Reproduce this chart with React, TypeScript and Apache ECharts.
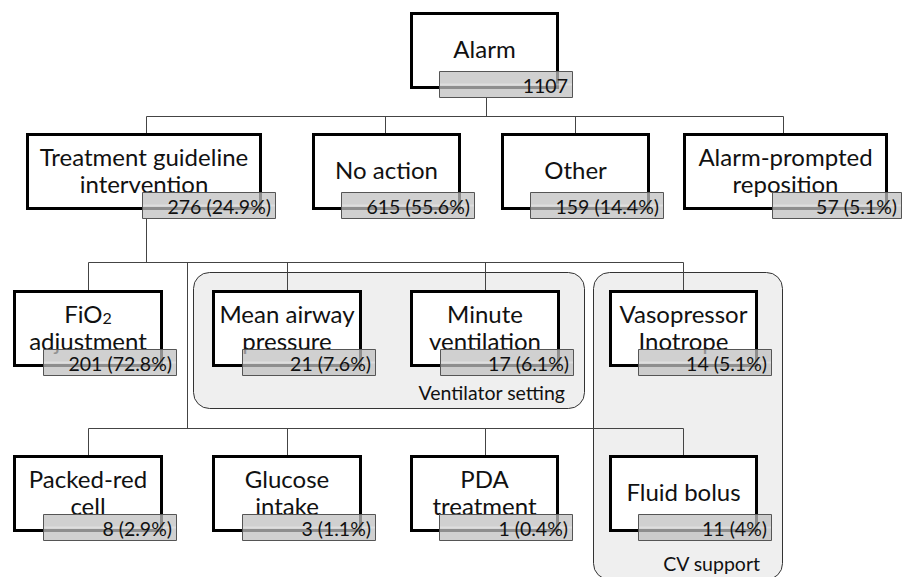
import React, { useEffect, useRef } from "react";
import * as echarts from "echarts";

// ---------- data ----------
const nodeNames = [
  "Alarm",
  "Treatment guideline\nintervention",
  "No action",
  "Other",
  "Alarm-prompted\nreposition",
  "FiO2\nadjustment",
  "Mean airway\npressure",
  "Minute\nventilation",
  "Vasopressor\nInotrope",
  "Packed-red\ncell",
  "Glucose\nintake",
  "PDA\ntreatment",
  "Fluid bolus",
];
const nodeCounts = [1107, 276, 615, 159, 57, 201, 21, 17, 14, 8, 3, 1, 11];
const nodePercents = ["", "24.9", "55.6", "14.4", "5.1", "72.8", "7.6", "6.1", "5.1", "2.9", "1.1", "0.4", "4"];
const groupLabels = ["Ventilator setting", "CV support"];
// children of each parent, by level
const treeLevels = [
  { parent: 0, children: [1, 2, 3, 4] },
  { parent: 1, children: [5, 6, 7, 8] },
  { parent: 1, children: [9, 10, 11, 12] },
];

// ---------- layout ----------
const W = 912;
const H = 577;
const boxLayout = [
  { x: 410, y: 12, w: 149, h: 77, cx: 486 },
  { x: 26, y: 133, w: 236, h: 77, cx: 146 },
  { x: 312, y: 133, w: 149, h: 77, cx: 385 },
  { x: 501, y: 133, w: 149, h: 77, cx: 575 },
  { x: 683, y: 133, w: 205, h: 77, cx: 783 },
  { x: 13, y: 290, w: 150, h: 77, cx: 88 },
  { x: 212, y: 290, w: 150, h: 77, cx: 287 },
  { x: 410, y: 290, w: 150, h: 77, cx: 485 },
  { x: 609, y: 290, w: 149, h: 77, cx: 683 },
  { x: 13, y: 455, w: 150, h: 77, cx: 88 },
  { x: 212, y: 455, w: 150, h: 77, cx: 287 },
  { x: 410, y: 455, w: 149, h: 77, cx: 485 },
  { x: 609, y: 455, w: 149, h: 77, cx: 683 },
];
const busLayout = [
  { y: 116, dropX: 486, dropFrom: 98 },
  { y: 262, dropX: 146, dropFrom: 218 },
  { y: 428, dropX: 187, dropFrom: 262 },
];
const panelLayout = [
  { x: 193, y: 272, w: 391, h: 136, lx: 565, ly: 392 },
  { x: 593, y: 272, w: 189, h: 307, lx: 760, ly: 563 },
];
const FONT = "Lato, 'Open Sans', sans-serif";
const LINE_H = 27;

export default function App() {
  const ref = useRef<HTMLDivElement>(null);
  useEffect(() => {
    if (!ref.current) return;
    const chart = echarts.init(ref.current, null, { renderer: "svg", width: W, height: H });
    const g: any[] = [];
    const line = (x1: number, y1: number, x2: number, y2: number) =>
      g.push({
        type: "line",
        z: 2,
        shape: { x1, y1, x2, y2 },
        style: { stroke: "#444", lineWidth: 1 },
      });
    const text = (x: number, y: number, t: string, size: number, align: string, z: number, rich?: any) =>
      g.push({
        type: "text",
        z,
        x,
        y,
        style: {
          text: t,
          rich,
          fill: "#111",
          fontSize: size,
          fontFamily: FONT,
          align,
          verticalAlign: "middle",
          textAlign: align,
          textVerticalAlign: "middle",
        },
      });

    // panels
    panelLayout.forEach((p, i) => {
      g.push({
        type: "rect",
        z: 1,
        shape: { x: p.x + 0.5, y: p.y + 0.5, width: p.w, height: p.h, r: 16 },
        style: { fill: "#efefef", stroke: "#333", lineWidth: 1 },
      });
      text(p.lx, p.ly, groupLabels[i], 19.5, "right", 4);
    });

    // connectors
    treeLevels.forEach((lv, i) => {
      const bus = busLayout[i];
      const xs = lv.children.map((c) => boxLayout[c].cx);
      const minX = Math.min(...xs, bus.dropX);
      const maxX = Math.max(...xs, bus.dropX);
      line(bus.dropX + 0.5, bus.dropFrom, bus.dropX + 0.5, bus.y + 0.5);
      line(minX + 0.5, bus.y + 0.5, maxX + 0.5, bus.y + 0.5);
      lv.children.forEach((c) => {
        const b = boxLayout[c];
        line(b.cx + 0.5, bus.y + 0.5, b.cx + 0.5, b.y);
      });
    });

    // boxes
    boxLayout.forEach((b, i) => {
      g.push({
        type: "rect",
        z: 3,
        shape: { x: b.x + 1.5, y: b.y + 1.5, width: b.w - 3, height: b.h - 3 },
        style: { fill: "#fff", stroke: "#000", lineWidth: 3 },
      });
      const lines = nodeNames[i].split("\n");
      const cy = b.y + b.h / 2 - 2;
      lines.forEach((ln, k) => {
        const y = cy + (k - (lines.length - 1) / 2) * LINE_H;
        if (ln === "FiO2") {
          text(b.x + b.w / 2, y, "FiO{s|2}", 24, "center", 4, {
            s: { fontSize: 16, lineHeight: 16, verticalAlign: "bottom", fontFamily: FONT, fill: "#111" },
          });
        } else {
          text(b.x + b.w / 2, y, ln, 24, "center", 4);
        }
      });
      // grey count tag
      const right = b.x + b.w + 13;
      const gw = i === 4 ? 129 : 133;
      const gx = right - gw;
      const gy = b.y + b.h - 18;
      const gh = 26;
      g.push({
        type: "rect",
        z: 5,
        shape: { x: gx + 0.5, y: gy + 0.5, width: gw, height: gh },
        style: { fill: "rgba(191,191,191,0.74)", stroke: "#555", lineWidth: 1 },
      });
      g.push({
        type: "line",
        z: 5,
        shape: { x1: gx + 1, y1: b.y + b.h - 4.5, x2: gx + gw, y2: b.y + b.h - 4.5 },
        style: { stroke: "rgba(255,255,255,0.3)", lineWidth: 2 },
      });
      const label = nodePercents[i] ? `${nodeCounts[i]} (${nodePercents[i]}%)` : `${nodeCounts[i]}`;
      text(right - 4, gy + gh / 2 + 1, label, 19.5, "right", 6);
    });

    chart.setOption({ animation: false, graphic: { elements: g } });
    return () => chart.dispose();
  }, []);
  return (
    <div
      ref={ref}
      style={{ position: "fixed", left: 0, top: 0, width: W, height: H, background: "#fff" }}
    />
  );
}
